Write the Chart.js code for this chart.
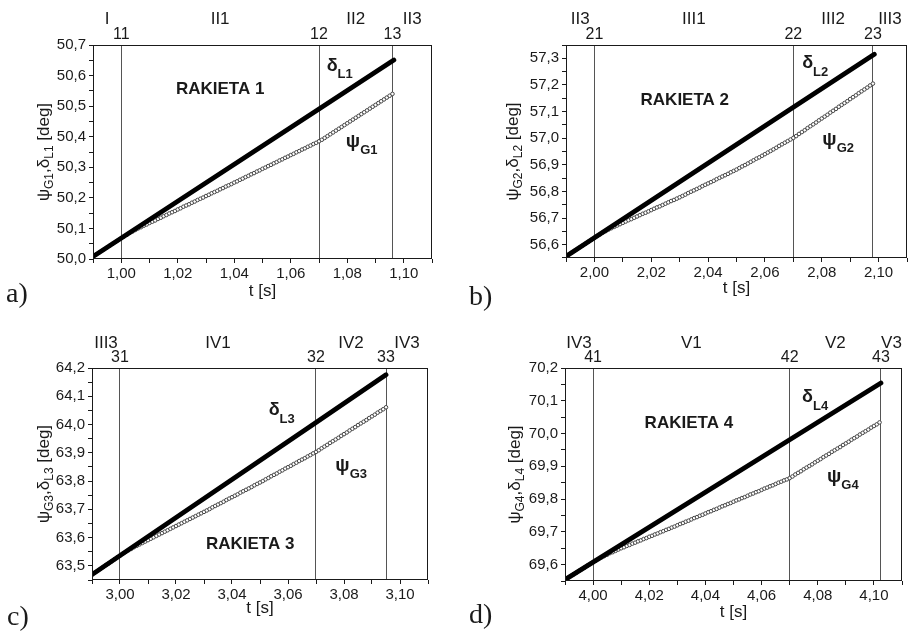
<!DOCTYPE html>
<html>
<head>
<meta charset="utf-8">
<script src="https://cdn.jsdelivr.net/npm/chart.js@4.4.0/dist/chart.umd.min.js"></script>
<style>
  body { margin: 0; background: #fff; width: 914px; height: 631px; position: relative; overflow: hidden; }
  canvas { position: absolute; }
</style>
</head>
<body>
<canvas id="pa" width="457" height="315" style="left:0;top:0"></canvas>
<canvas id="pb" width="457" height="315" style="left:457px;top:0"></canvas>
<canvas id="pc" width="457" height="316" style="left:0;top:315px"></canvas>
<canvas id="pd" width="457" height="316" style="left:457px;top:315px"></canvas>
<script>
// sampling step of the psi_G series [s]
var dt = 0.001;

// ---- rocket 1
var xRangeA = [0.99, 1.11];
var yRangeA = [50.0, 50.7];
var tPsiA = 0.990;
var psiA = [
  50.008, 50.014, 50.020, 50.026, 50.032, 50.038, 50.044, 50.050, 50.056, 50.062,
  50.068, 50.074, 50.079, 50.085, 50.090, 50.095, 50.100, 50.104, 50.109, 50.113,
  50.118, 50.122, 50.126, 50.131, 50.135, 50.140, 50.144, 50.149, 50.153, 50.157,
  50.162, 50.166, 50.171, 50.175, 50.179, 50.184, 50.188, 50.193, 50.197, 50.201,
  50.206, 50.210, 50.215, 50.219, 50.223, 50.228, 50.232, 50.237, 50.241, 50.245,
  50.250, 50.254, 50.259, 50.263, 50.268, 50.272, 50.277, 50.281, 50.286, 50.290,
  50.295, 50.299, 50.304, 50.308, 50.313, 50.317, 50.322, 50.326, 50.331, 50.335,
  50.340, 50.344, 50.349, 50.353, 50.358, 50.362, 50.367, 50.371, 50.376, 50.380,
  50.385, 50.390, 50.396, 50.402, 50.408, 50.414, 50.420, 50.426, 50.432, 50.438,
  50.444, 50.450, 50.456, 50.462, 50.468, 50.474, 50.480, 50.486, 50.492, 50.498,
  50.504, 50.510, 50.516, 50.522, 50.528, 50.534, 50.540
];
var tDeltaA = [0.990, 1.070, 1.0965];
var deltaA = [50.008, 50.491, 50.651];
var switchA = [1.000, 1.070, 1.096];
var pointsA = ['11', '12', '13'];
var phasesA = ['I', 'II1', 'II2', 'II3'];

// ---- rocket 2
var xRangeB = [1.99, 2.11];
var yRangeB = [56.55, 57.35];
var tPsiB = 1.990;
var psiB = [
  56.556, 56.563, 56.570, 56.577, 56.584, 56.591, 56.598, 56.605, 56.612, 56.619,
  56.626, 56.633, 56.639, 56.646, 56.651, 56.657, 56.662, 56.667, 56.672, 56.677,
  56.682, 56.687, 56.692, 56.696, 56.701, 56.706, 56.711, 56.716, 56.720, 56.725,
  56.730, 56.735, 56.740, 56.744, 56.749, 56.754, 56.759, 56.764, 56.768, 56.773,
  56.778, 56.783, 56.788, 56.794, 56.799, 56.804, 56.809, 56.814, 56.820, 56.825,
  56.830, 56.835, 56.840, 56.846, 56.851, 56.856, 56.861, 56.866, 56.872, 56.877,
  56.882, 56.888, 56.894, 56.899, 56.905, 56.911, 56.917, 56.923, 56.928, 56.934,
  56.940, 56.946, 56.952, 56.958, 56.964, 56.971, 56.977, 56.983, 56.989, 56.995,
  57.001, 57.008, 57.016, 57.023, 57.030, 57.038, 57.045, 57.052, 57.059, 57.067,
  57.074, 57.081, 57.088, 57.096, 57.103, 57.110, 57.118, 57.125, 57.132, 57.139,
  57.147, 57.154, 57.161, 57.169, 57.176, 57.183, 57.190, 57.198, 57.205
];
var tDeltaB = [1.990, 2.070, 2.0985];
var deltaB = [56.556, 57.116, 57.315];
var switchB = [2.000, 2.070, 2.098];
var pointsB = ['21', '22', '23'];
var phasesB = ['II3', 'III1', 'III2', 'III3'];

// ---- rocket 3
var xRangeC = [2.99, 3.11];
var yRangeC = [63.45, 64.2];
var tPsiC = 2.990;
var psiC = [
  63.469, 63.476, 63.482, 63.489, 63.496, 63.503, 63.509, 63.516, 63.523, 63.530,
  63.536, 63.543, 63.549, 63.555, 63.560, 63.566, 63.571, 63.576, 63.581, 63.586,
  63.591, 63.596, 63.601, 63.606, 63.611, 63.616, 63.621, 63.626, 63.631, 63.636,
  63.641, 63.646, 63.651, 63.656, 63.661, 63.666, 63.671, 63.676, 63.681, 63.686,
  63.691, 63.696, 63.701, 63.707, 63.712, 63.717, 63.722, 63.727, 63.733, 63.738,
  63.743, 63.748, 63.753, 63.759, 63.764, 63.769, 63.774, 63.779, 63.785, 63.790,
  63.795, 63.800, 63.806, 63.811, 63.817, 63.822, 63.827, 63.833, 63.838, 63.844,
  63.849, 63.854, 63.860, 63.865, 63.871, 63.876, 63.881, 63.887, 63.892, 63.898,
  63.903, 63.909, 63.916, 63.922, 63.928, 63.935, 63.941, 63.947, 63.953, 63.960,
  63.966, 63.972, 63.979, 63.985, 63.991, 63.998, 64.004, 64.010, 64.016, 64.023,
  64.029, 64.035, 64.042, 64.048, 64.054, 64.061
];
var tDeltaC = [2.990, 3.070, 3.095];
var deltaC = [63.469, 64.007, 64.176];
var switchC = [3.000, 3.070, 3.095];
var pointsC = ['31', '32', '33'];
var phasesC = ['III3', 'IV1', 'IV2', 'IV3'];

// ---- rocket 4
var xRangeD = [3.99, 4.11];
var yRangeD = [69.55, 70.2];
var tPsiD = 3.990;
var psiD = [
  69.554, 69.559, 69.565, 69.570, 69.575, 69.581, 69.586, 69.591, 69.597, 69.602,
  69.607, 69.612, 69.617, 69.622, 69.626, 69.630, 69.635, 69.638, 69.642, 69.646,
  69.650, 69.653, 69.657, 69.660, 69.664, 69.667, 69.671, 69.674, 69.678, 69.681,
  69.685, 69.688, 69.692, 69.695, 69.699, 69.702, 69.706, 69.709, 69.713, 69.716,
  69.720, 69.724, 69.727, 69.731, 69.734, 69.738, 69.742, 69.745, 69.749, 69.752,
  69.756, 69.760, 69.763, 69.767, 69.770, 69.774, 69.778, 69.781, 69.785, 69.788,
  69.792, 69.796, 69.799, 69.803, 69.806, 69.810, 69.814, 69.817, 69.821, 69.824,
  69.828, 69.832, 69.835, 69.839, 69.842, 69.846, 69.850, 69.853, 69.857, 69.860,
  69.864, 69.869, 69.875, 69.880, 69.885, 69.891, 69.896, 69.901, 69.906, 69.912,
  69.917, 69.922, 69.928, 69.933, 69.938, 69.944, 69.949, 69.954, 69.959, 69.965,
  69.970, 69.975, 69.981, 69.986, 69.991, 69.997, 70.002, 70.007, 70.012, 70.018,
  70.023, 70.028, 70.034
];
var tDeltaD = [3.990, 4.070, 4.1025];
var deltaD = [69.554, 69.981, 70.154];
var switchD = [4.000, 4.070, 4.1025];
var pointsD = ['41', '42', '43'];
var phasesD = ['IV3', 'V1', 'V2', 'V3'];

var SANS = "'Liberation Sans', Arial, sans-serif";
var INK = '#1a1a1a';
var TOP_INNER = 18; // height of the row with the switch-point numbers
Chart.defaults.font.family = SANS;
Chart.defaults.color = INK;

function comma(v, d) { return v.toFixed(d).replace('.', ','); }

// ticks every `step` between axis min and max
function stepTicks(step) {
    return function (s) {
        var ticks = [];
        for (var k = Math.round(s.min / step); k <= Math.round(s.max / step) + 1e-9; k++) {
            ticks.push({ value: k * step });
        }
        s.ticks = ticks;
    };
}

// text with a subscript, returns end x
function subText(ctx, x, y, main, sub, mainFont, subFont, drop) {
    ctx.font = mainFont;
    ctx.fillText(main, x, y);
    x += ctx.measureText(main).width;
    ctx.font = subFont;
    ctx.fillText(sub, x, y + drop);
    return x + ctx.measureText(sub).width;
}

function subWidth(ctx, main, sub, mainFont, subFont) {
    ctx.font = mainFont;
    var w = ctx.measureText(main).width;
    ctx.font = subFont;
    return w + ctx.measureText(sub).width;
}

var decor = {
    id: 'decor',
    afterDraw: function (chart, args, p) {
        var ctx = chart.ctx, a = chart.chartArea, x = chart.scales.x, y = chart.scales.y;
        ctx.save();
        ctx.strokeStyle = INK;
        ctx.lineWidth = 1;
        ctx.strokeRect(a.left + 0.5, a.top + 0.5, a.right - a.left - 1, a.bottom - a.top - 1);

        ctx.fillStyle = INK;

        // in-plot labels
        ctx.font = 'bold 17px ' + SANS;
        ctx.textAlign = 'center';
        ctx.textBaseline = 'middle';
        ctx.fillText('RAKIETA ' + p.n, x.getPixelForValue(p.nameAt[0]), y.getPixelForValue(p.nameAt[1]));
        ctx.textAlign = 'left';
        ctx.textBaseline = 'alphabetic';
        subText(ctx, x.getPixelForValue(p.deltaAt[0]), y.getPixelForValue(p.deltaAt[1]),
            'δ', 'L' + p.n, 'bold 18px ' + SANS, 'bold 13px ' + SANS, 7.5);
        subText(ctx, x.getPixelForValue(p.psiAt[0]), y.getPixelForValue(p.psiAt[1]),
            'ψ', 'G' + p.n, 'bold 19px ' + SANS, 'bold 13px ' + SANS, 7);

        // x title
        ctx.font = '17px ' + SANS;
        ctx.textAlign = 'center';
        ctx.textBaseline = 'middle';
        ctx.fillText('t [s]', (a.left + a.right) / 2, a.bottom + p.xTitleDy);

        // y title, rotated, with subscripts
        var f1 = '17px ' + SANS, f2 = '12px ' + SANS;
        var w = subWidth(ctx, 'ψ', 'G' + p.n, f1, f2) + subWidth(ctx, ',δ', 'L' + p.n, f1, f2);
        ctx.font = f1;
        w += ctx.measureText(' [deg]').width;
        ctx.translate(p.yTitleX, (a.top + a.bottom) / 2);
        ctx.rotate(-Math.PI / 2);
        ctx.textAlign = 'left';
        ctx.textBaseline = 'alphabetic';
        var cx = -w / 2;
        cx = subText(ctx, cx, 6, 'ψ', 'G' + p.n, f1, f2, 4);
        cx = subText(ctx, cx, 6, ',δ', 'L' + p.n, f1, f2, 4);
        ctx.font = f1;
        ctx.fillText(' [deg]', cx, 6);
        ctx.setTransform(1, 0, 0, 1, 0, 0);

        // panel letter
        ctx.font = '28px "Liberation Serif", "DejaVu Serif", serif';
        ctx.fillText(p.letter, p.letterAt[0], p.letterAt[1]);
        ctx.restore();
    }
};

function makePanel(id, D, P) {
    var canvas = document.getElementById(id);
    var W = canvas.width, H = canvas.height;
    var psiPts = D.psi.map(function (v, i) { return { x: D.t0 + i * dt, y: v }; });
    var deltaPts = D.tDelta.map(function (t, i) { return { x: t, y: D.delta[i] }; });
    var edges = [D.xRange[0]].concat(D.switches, [D.xRange[1]]);
    var mids = D.phases.map(function (_, i) { return (edges[i] + edges[i + 1]) / 2; });

    new Chart(canvas, {
        type: 'line',
        data: {
            datasets: [{
                label: 'delta',
                data: deltaPts,
                borderColor: '#000',
                borderWidth: 4.8,
                borderCapStyle: 'round',
                pointRadius: 0,
                tension: 0
            }, {
                label: 'psi',
                data: psiPts,
                showLine: false,
                pointRadius: 1.8,
                pointBorderWidth: 1,
                pointBorderColor: '#444',
                pointBackgroundColor: '#fff'
            }]
        },
        options: {
            responsive: false,
            animation: false,
            events: [],
            layout: { padding: { left: 0, top: 0, bottom: 0, right: W - P.R } },
            plugins: { legend: { display: false }, tooltip: { enabled: false }, decor: P },
            scales: {
                x: {
                    type: 'linear', position: 'bottom', min: D.xRange[0], max: D.xRange[1],
                    afterBuildTicks: stepTicks(0.01),
                    afterFit: function (s) { s.height = H - P.B; },
                    ticks: {
                        autoSkip: false, maxRotation: 0, font: { size: 15 }, color: INK, padding: 2,
                        callback: function (v) { return Math.round(v * 100) % 2 === 0 ? comma(v, 2) : ''; }
                    },
                    grid: { drawOnChartArea: false, tickLength: 4, color: INK },
                    border: { display: false }
                },
                y: {
                    type: 'linear', position: 'left', min: D.yRange[0], max: D.yRange[1],
                    afterBuildTicks: stepTicks(0.05),
                    afterFit: function (s) { s.width = P.L; },
                    ticks: {
                        autoSkip: false, font: { size: 15 }, color: INK, padding: 3,
                        callback: function (v) { return Math.round(v * 20) % 2 === 0 ? comma(v, 1) : ''; }
                    },
                    grid: { drawOnChartArea: false, tickLength: 4, color: INK },
                    border: { display: false }
                },
                x2: {
                    type: 'linear', position: 'top', weight: 0, min: D.xRange[0], max: D.xRange[1],
                    afterBuildTicks: function (s) { s.ticks = D.switches.map(function (v) { return { value: v }; }); },
                    afterFit: function (s) { s.height = TOP_INNER; },
                    ticks: {
                        autoSkip: false, maxRotation: 0, font: { size: 16 }, color: INK, padding: 0.7,
                        callback: function (v, i) { return D.points[i]; }
                    },
                    grid: { drawOnChartArea: true, drawTicks: false, color: '#555', lineWidth: 1 },
                    border: { display: false }
                },
                x3: {
                    type: 'linear', position: 'top', weight: 1, min: D.xRange[0], max: D.xRange[1],
                    afterBuildTicks: function (s) { s.ticks = mids.map(function (v) { return { value: v }; }); },
                    afterFit: function (s) { s.height = P.T - TOP_INNER; },
                    ticks: {
                        autoSkip: false, maxRotation: 0, font: { size: 17 }, color: INK, padding: P.romanPad,
                        callback: function (v, i) { return D.phases[i]; }
                    },
                    grid: { display: false, drawTicks: false },
                    border: { display: false }
                }
            }
        },
        plugins: [decor]
    });
}

makePanel('pa',
    { xRange: xRangeA, yRange: yRangeA, t0: tPsiA, psi: psiA, tDelta: tDeltaA, delta: deltaA, switches: switchA, points: pointsA, phases: phasesA },
    { n: 1, L: 93, R: 432, T: 45, B: 259, romanPad: -2.2, xTitleDy: 32, yTitleX: 43, letter: 'a)', letterAt: [6, 302],
      nameAt: [1.035, 50.555], deltaAt: [1.0727, 50.616], psiAt: [1.0795, 50.365] });

makePanel('pb',
    { xRange: xRangeB, yRange: yRangeB, t0: tPsiB, psi: psiB, tDelta: tDeltaB, delta: deltaB, switches: switchB, points: pointsB, phases: phasesB },
    { n: 2, L: 109, R: 450, T: 45, B: 258, romanPad: -2.2, xTitleDy: 30, yTitleX: 55, letter: 'b)', letterAt: [12, 305],
      nameAt: [2.0318, 57.144], deltaAt: [2.0731, 57.263], psiAt: [2.0802, 56.975] });

makePanel('pc',
    { xRange: xRangeC, yRange: yRangeC, t0: tPsiC, psi: psiC, tDelta: tDeltaC, delta: deltaC, switches: switchC, points: pointsC, phases: phasesC },
    { n: 3, L: 92, R: 428, T: 53, B: 265, romanPad: -3.6, xTitleDy: 28, yTitleX: 43, letter: 'c)', letterAt: [7, 310],
      nameAt: [3.0465, 63.576], deltaAt: [3.0531, 64.033], psiAt: [3.0769, 63.835] });

makePanel('pd',
    { xRange: xRangeD, yRange: yRangeD, t0: tPsiD, psi: psiD, tDelta: tDeltaD, delta: deltaD, switches: switchD, points: pointsD, phases: phasesD },
    { n: 4, L: 108, R: 445, T: 53, B: 266, romanPad: -3.6, xTitleDy: 31, yTitleX: 57, letter: 'd)', letterAt: [12, 308],
      nameAt: [4.0341, 70.031], deltaAt: [4.0744, 70.095], psiAt: [4.0833, 69.851] });
</script>
</body>
</html>
